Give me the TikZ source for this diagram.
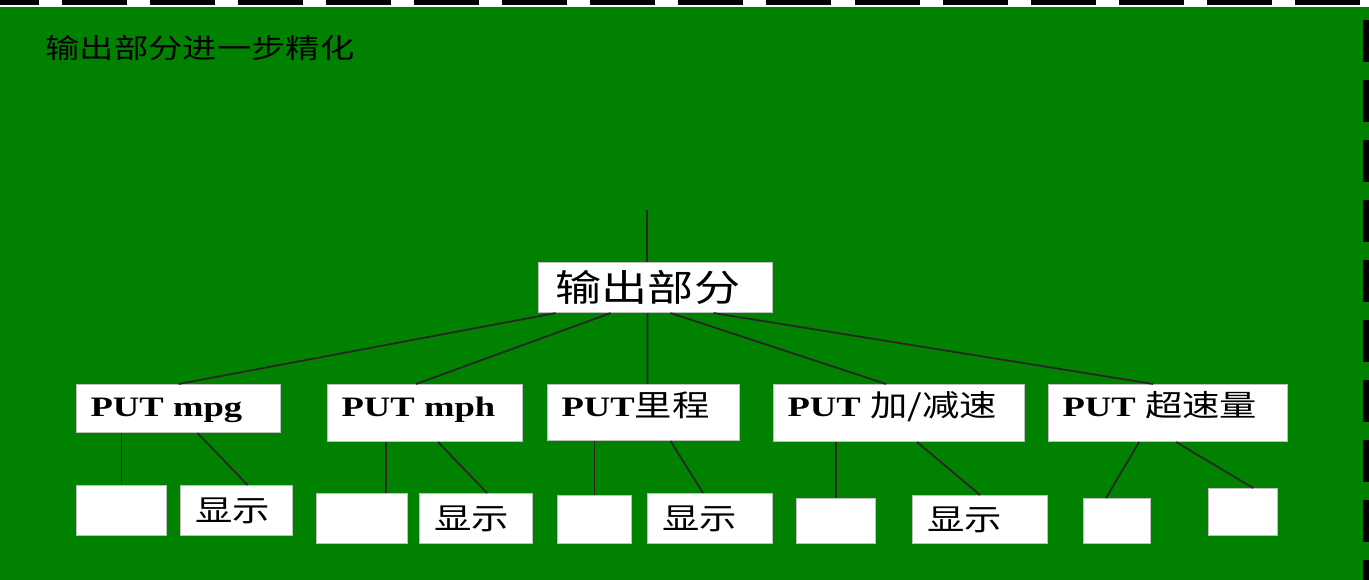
\documentclass[tikz,border=0pt]{standalone}
\usepackage{fontspec}
\setmainfont{Liberation Serif}
\newfontfamily\cjk[FakeStretch=1.25]{Noto Sans CJK SC}
\newfontfamily\putfont[FakeStretch=1.3]{Liberation Serif}
\usetikzlibrary{calc}
\definecolor{slidegreen}{RGB}{0,130,0}
\tikzset{
  box/.style={draw=gray!50, line width=0.3pt, fill=white, anchor=north west, inner sep=0pt},
  putbox/.style={box, align=left, inner xsep=0.14cm, text height=0.32cm, font=\putfont\bfseries\fontsize{8}{10}\selectfont},
  leaf/.style={box, align=left, inner xsep=0.15cm, font=\cjk\fontsize{8.5}{10}\selectfont},
  blank/.style={box},
  link/.style={draw=black!85, line width=0.5pt},
}
\newcommand{\cjkpart}[1]{{\mdseries\cjk\fontsize{8.5}{10}\selectfont #1}}
\begin{document}
\begin{tikzpicture}[x=0.01cm,y=-0.01cm]
  \useasboundingbox (0,0) rectangle (1369,580);
  \fill[slidegreen] (0,0) rectangle (1369,580);
  % dashed frame
  \fill[white] (0,0) rectangle (1369,7);
  \draw[line width=0.05cm, dash pattern=on 0.65cm off 0.23cm] (-26,3) -- (1369,3);
  \draw[line width=0.06cm, dash pattern=on 0.42cm off 0.18cm] (1366,20) -- (1366,580);

  \node[anchor=west, inner sep=0pt, font=\cjk\fontsize{7.8}{9}\selectfont] (title) at (45,48) {输出部分进一步精化};

  % root
  \node[box, align=left, inner xsep=0.17cm, text width=2.0cm, minimum height=0.5cm,
        font=\cjk\fontsize{10.5}{12}\selectfont] (root) at (538,262) {输出部分};
  \coordinate (top) at (647,210);
  \draw[link] (top) -- (top |- root.north);

  % second level
  \node[putbox, text width=1.76cm, text depth=0.16cm] (c1) at (76,384) {PUT mpg};
  \node[putbox, text width=1.67cm, text depth=0.25cm] (c2) at (327,384) {PUT mph};
  \node[putbox, text width=1.64cm, text depth=0.24cm] (c3) at (547,384) {PUT\cjkpart{里程}};
  \node[putbox, text width=2.23cm, text depth=0.25cm] (c4) at (773,384) {PUT \cjkpart{加/减速}};
  \node[putbox, text width=2.11cm, text depth=0.25cm] (c5) at (1048,384) {PUT \cjkpart{超速量}};

  \draw[link] ($(root.south)+(-100,0)$) -- (c1.north);
  \draw[link] ($(root.south)+(-45,0)$) -- ($(c2.north)+(-9,0)$);
  \draw[link] ($(root.south)+(-8,0)$) -- ($(c3.north)+(4,0)$);
  \draw[link] ($(root.south)+(15,0)$) -- ($(c4.north)+(-13,0)$);
  \draw[link] ($(root.south)+(58,0)$) -- ($(c5.north)+(-15,0)$);

  % third level
  \node[blank, minimum width=0.90cm, minimum height=0.50cm] (c1a) at (76,485) {};
  \node[leaf, text width=0.82cm, minimum height=0.50cm] (c1b) at (180,485) {显示};
  \node[blank, minimum width=0.91cm, minimum height=0.50cm] (c2a) at (316,493) {};
  \node[leaf, text width=0.83cm, minimum height=0.50cm] (c2b) at (419,493) {显示};
  \node[blank, minimum width=0.74cm, minimum height=0.48cm] (c3a) at (557,495) {};
  \node[leaf, text width=0.95cm, minimum height=0.50cm] (c3b) at (647,493) {显示};
  \node[blank, minimum width=0.79cm, minimum height=0.45cm] (c4a) at (796,498) {};
  \node[leaf, text width=1.05cm, minimum height=0.48cm] (c4b) at (912,495) {显示};
  \node[blank, minimum width=0.67cm, minimum height=0.45cm] (c5a) at (1083,498) {};
  \node[blank, minimum width=0.69cm, minimum height=0.47cm] (c5b) at (1208,488) {};

  \draw[link] (c1a.north |- c1.south) -- (c1a.north);
  \draw[link] ($(c1.south)+(19,0)$) -- ($(c1b.north)+(11,0)$);
  \draw[link] ($(c2.south)+(-39,0)$) -- ($(c2a.north)+(24,0)$);
  \draw[link] ($(c2.south)+(13,0)$) -- ($(c2b.north)+(11,0)$);
  \draw[link] (c3a.north |- c3.south) -- (c3a.north);
  \draw[link] ($(c3.south)+(27,0)$) -- ($(c3b.north)+(-7,0)$);
  \draw[link] (c4a.north |- c4.south) -- (c4a.north);
  \draw[link] ($(c4.south)+(18,0)$) -- (c4b.north);
  \draw[link] ($(c5.south)+(-29,0)$) -- ($(c5a.north)+(-11,0)$);
  \draw[link] ($(c5.south)+(8,0)$) -- ($(c5b.north)+(10,0)$);
\end{tikzpicture}
\end{document}
